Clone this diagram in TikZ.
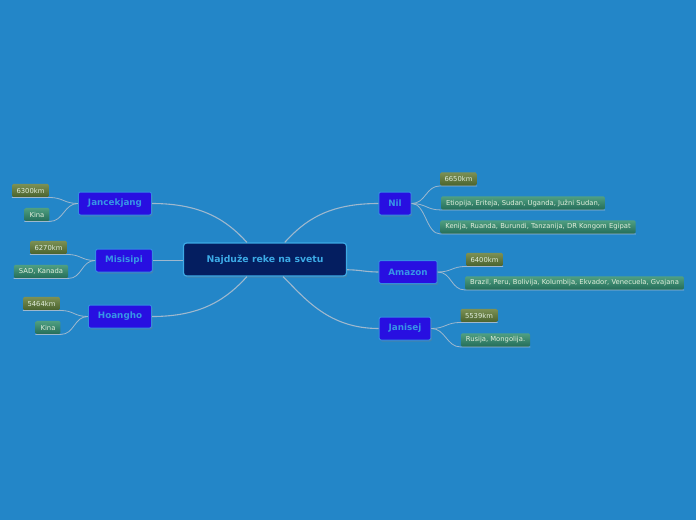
\documentclass[tikz,border=0pt]{standalone}
\usepackage{fontspec}
\setmainfont{DejaVu Sans}
\usetikzlibrary{calc,shadows}
\definecolor{bg}{RGB}{35,134,200}
\definecolor{cfill}{RGB}{4,30,96}
\definecolor{cborder}{RGB}{60,170,230}
\definecolor{bfill}{RGB}{40,15,225}
\definecolor{bborder}{RGB}{50,140,225}
\definecolor{btext}{RGB}{55,150,230}
\definecolor{conncol}{RGB}{158,184,206}
\definecolor{kmtop}{RGB}{125,145,85}
\definecolor{kmbot}{RGB}{72,98,45}
\definecolor{cttop}{RGB}{80,160,130}
\definecolor{ctbot}{RGB}{35,108,88}
\definecolor{leaftext}{RGB}{225,238,220}
\tikzset{
  centralbox/.style={draw=cborder, fill=cfill, line width=1.2pt, rounded corners=3pt,
    text=cborder, font=\fontsize{9.3}{11}\selectfont\bfseries, inner xsep=23pt,
    minimum height=33pt, drop shadow={shadow xshift=1pt, shadow yshift=-1.5pt, opacity=0.35}},
  branchbox/.style={draw=bborder, fill=bfill, line width=1pt, rounded corners=2pt,
    text=btext, font=\fontsize{8.8}{10}\selectfont\bfseries, inner xsep=9.5pt,
    minimum height=23pt, drop shadow={shadow xshift=1pt, shadow yshift=-1.5pt, opacity=0.35}},
  leafbox/.style={rounded corners=1.5pt, text=leaftext,
    font=\fontsize{6.8}{7.8}\selectfont, inner xsep=5pt, inner ysep=0pt,
    minimum height=13.5pt},
  kmbox/.style={leafbox, top color=kmtop, bottom color=kmbot, inner xsep=4.5pt},
  ctbox/.style={leafbox, top color=cttop, bottom color=ctbot},
  conn/.style={draw=conncol, line width=1.1pt},
  lconn/.style={draw=conncol, line width=0.8pt},
}
\begin{document}
\begin{tikzpicture}[x=1pt,y=-1pt]
\fill[bg] (0,0) rectangle (696,520);
\useasboundingbox (0,0) rectangle (696,520);

% central
\node[centralbox] (c) at (265,259.5) {Najduže reke na svetu};

% branches
\node[branchbox] (jan) at (115,203.5) {Jancekjang};
\node[branchbox] (mis) at (124,260.5) {Misisipi};
\node[branchbox] (hoa) at (120,316.5) {Hoangho};
\node[branchbox] (nil) at (395,203.5) {Nil};
\node[branchbox] (ama) at (408,272) {Amazon};
\node[branchbox] (jen) at (405,328.5) {Janisej};

% leaves
\node[kmbox] (l1) at (30.5,190.5) {6300km};
\node[ctbox] (l2) at (37,214.5) {Kina};
\node[kmbox] (l3) at (48.5,247.5) {6270km};
\node[ctbox] (l4) at (41,271.5) {SAD, Kanada};
\node[kmbox] (l5) at (41.5,303.5) {5464km};
\node[ctbox] (l6) at (48,327.5) {Kina};
\node[kmbox] (r1) at (458.5,179) {6650km};
\node[ctbox] (r2) at (523,203) {Etiopija, Eriteja, Sudan, Uganda, Južni Sudan,};
\node[ctbox] (r3) at (538,227) {Kenija, Ruanda, Burundi, Tanzanija, DR Kongom Egipat};
\node[kmbox] (r4) at (484.5,259.5) {6400km};
\node[ctbox] (r5) at (574.5,283) {Brazil, Peru, Bolivija, Kolumbija, Ekvador, Venecuela, Gvajana};
\node[kmbox] (r6) at (479,315.5) {5539km};
\node[ctbox] (r7) at (495.5,340) {Rusija, Mongolija.};

% main connectors
\draw[conn] (jan.east) .. controls +(50,0) and +(-20,-22) .. ($(c.north west)!0.39!(c.north east)$);
\draw[conn] (mis.east) -- (mis.east -| c.west);
\draw[conn] (hoa.east) .. controls +(50,0) and +(-20,22) .. ($(c.south west)!0.39!(c.south east)$);
\draw[conn] (nil.west) .. controls +(-50,0) and +(20,-22) .. ($(c.north west)!0.62!(c.north east)$);
\draw[conn] ($(c.south east)!0.2!(c.north east)$) .. controls +(12,0) and +(-12,0) .. (ama.west);
\draw[conn] (jen.west) .. controls +(-50,0) and +(22,22) .. ($(c.south west)!0.61!(c.south east)$);

% leaf connectors
\draw[lconn] (jan.west) .. controls +(-14,0) and +(14,0) .. (l1.south east) -- (l1.south west);
\draw[lconn] (jan.west) .. controls +(-14,0) and +(14,0) .. (l2.south east) -- (l2.south west);
\draw[lconn] (mis.west) .. controls +(-14,0) and +(14,0) .. (l3.south east) -- (l3.south west);
\draw[lconn] (mis.west) .. controls +(-14,0) and +(14,0) .. (l4.south east) -- (l4.south west);
\draw[lconn] (hoa.west) .. controls +(-14,0) and +(14,0) .. (l5.south east) -- (l5.south west);
\draw[lconn] (hoa.west) .. controls +(-14,0) and +(14,0) .. (l6.south east) -- (l6.south west);
\draw[lconn] (nil.east) .. controls +(14,0) and +(-14,0) .. (r1.south west) -- (r1.south east);
\draw[lconn] (nil.east) .. controls +(14,0) and +(-14,0) .. (r2.south west) -- (r2.south east);
\draw[lconn] (nil.east) .. controls +(14,0) and +(-14,0) .. (r3.south west) -- (r3.south east);
\draw[lconn] (ama.east) .. controls +(14,0) and +(-14,0) .. (r4.south west) -- (r4.south east);
\draw[lconn] (ama.east) .. controls +(14,0) and +(-14,0) .. (r5.south west) -- (r5.south east);
\draw[lconn] (jen.east) .. controls +(14,0) and +(-14,0) .. (r6.south west) -- (r6.south east);
\draw[lconn] (jen.east) .. controls +(14,0) and +(-14,0) .. (r7.south west) -- (r7.south east);
\end{tikzpicture}
\end{document}
